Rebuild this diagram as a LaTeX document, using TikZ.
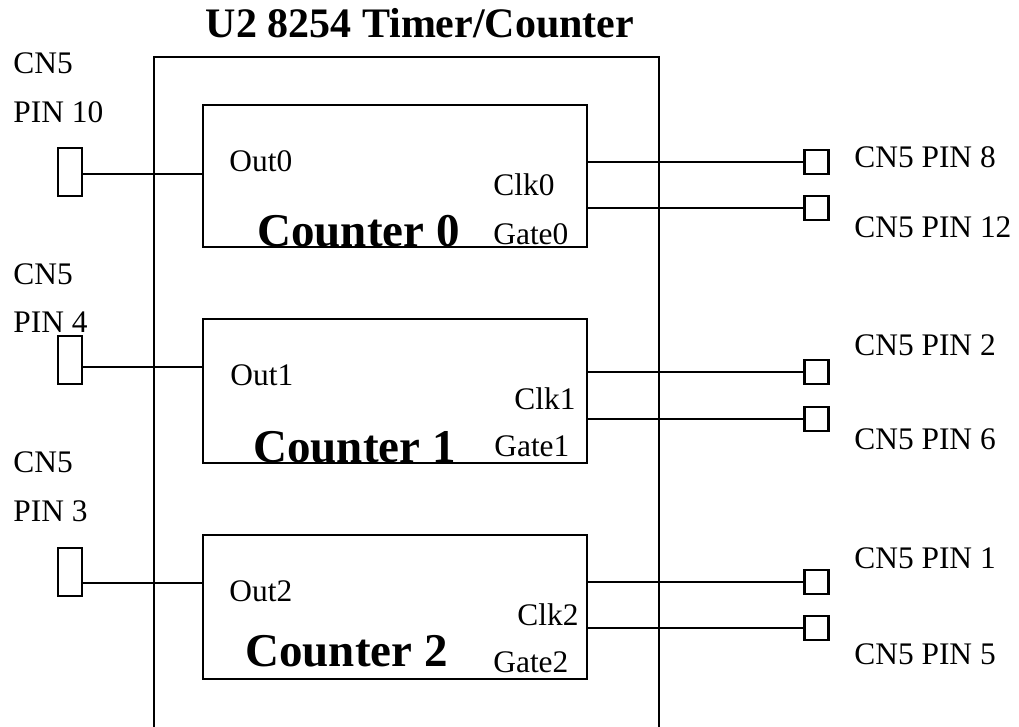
\documentclass[tikz,border=0pt]{standalone}
\usepackage{fontspec}
\setmainfont{Liberation Serif}
\usetikzlibrary{positioning,calc}

\begin{document}
\begin{tikzpicture}[
    x=0.5pt, y=-0.5pt,
    wire/.style={line width=1pt, draw=black},
    counter/.style={draw=black, line width=1pt, minimum width=192pt,
                    minimum height=72pt, inner sep=0pt},
    outpin/.style={draw=black, line width=1.4pt, minimum width=12pt,
                   minimum height=24pt, inner sep=0pt},
    iopin/.style={draw=black, line width=1.4pt, minimum width=12pt,
                  minimum height=12pt, inner sep=0pt},
    lbl/.style={anchor=base west, inner sep=0pt, font=\fontsize{15.7}{19}\selectfont},
    cname/.style={anchor=base west, inner sep=0pt, font=\fontsize{23.5}{28}\selectfont\bfseries}
]
\useasboundingbox (0,0) rectangle (1019,727);

\node[anchor=base, inner sep=0pt, font=\fontsize{21}{25}\selectfont\bfseries] (title) at (420,38) {U2 8254 Timer/Counter};
\draw[wire] (154,727) -- (154,57) -- (659,57) -- (659,727);

\node[counter, minimum height=71pt] (cnt0) at (395,176) {};
\node[counter] (cnt1) at (395,391) {};
\node[counter] (cnt2) at (395,607) {};

\node[cname] (cnt0name) at (257,247) {Counter 0};
\node[cname] (cnt1name) at (253,463) {Counter 1};
\node[cname] (cnt2name) at (245,667) {Counter 2};

\node[lbl] (out0lbl) at (229,172) {Out0};
\node[lbl] (out1lbl) at (230,386) {Out1};
\node[lbl] (out2lbl) at (229,602) {Out2};
\node[lbl] (clk0lbl) at (493,196) {Clk0};
\node[lbl] (clk1lbl) at (514,410) {Clk1};
\node[lbl] (clk2lbl) at (517,625) {Clk2};
\node[lbl] (gate0lbl) at (493,245) {Gate0};
\node[lbl] (gate1lbl) at (494,457) {Gate1};
\node[lbl] (gate2lbl) at (493,673) {Gate2};

\node[outpin] (pin10) at (70,172) {};
\node[outpin] (pin4) at (70,360) {};
\node[outpin] (pin3) at (70,572) {};
\node[lbl] (pin10cn) at (13,74) {CN5};
\node[lbl] (pin10lbl) at (13,123) {PIN 10};
\node[lbl] (pin4cn) at (13,285) {CN5};
\node[lbl] (pin4lbl) at (13,333) {PIN 4};
\node[lbl] (pin3cn) at (13,473) {CN5};
\node[lbl] (pin3lbl) at (13,522) {PIN 3};

\node[iopin] (pin8) at (816.5,162) {};
\node[iopin] (pin12) at (816.5,208) {};
\node[iopin] (pin2) at (816.5,372) {};
\node[iopin] (pin6) at (816.5,419) {};
\node[iopin] (pin1) at (816.5,582) {};
\node[iopin] (pin5) at (816.5,628) {};
\node[lbl] (pin8lbl) at (854,168) {CN5 PIN 8};
\node[lbl] (pin12lbl) at (854,238) {CN5 PIN 12};
\node[lbl] (pin2lbl) at (854,356) {CN5 PIN 2};
\node[lbl] (pin6lbl) at (854,450) {CN5 PIN 6};
\node[lbl] (pin1lbl) at (854,568) {CN5 PIN 1};
\node[lbl] (pin5lbl) at (854,665) {CN5 PIN 5};

\coordinate (out0) at (203,174);
\coordinate (out1) at (203,367);
\coordinate (out2) at (203,583);

\draw[wire] (out0 -| pin10.east) -- (out0);
\draw[wire] (out1 -| pin4.east) -- (out1);
\draw[wire] (out2 -| pin3.east) -- (out2);
\draw[wire] (pin8 -| cnt0.east) -- (pin8.west);
\draw[wire] (pin12 -| cnt0.east) -- (pin12.west);
\draw[wire] (pin2 -| cnt1.east) -- (pin2.west);
\draw[wire] (pin6 -| cnt1.east) -- (pin6.west);
\draw[wire] (pin1 -| cnt2.east) -- (pin1.west);
\draw[wire] (pin5 -| cnt2.east) -- (pin5.west);
\end{tikzpicture}
\end{document}
